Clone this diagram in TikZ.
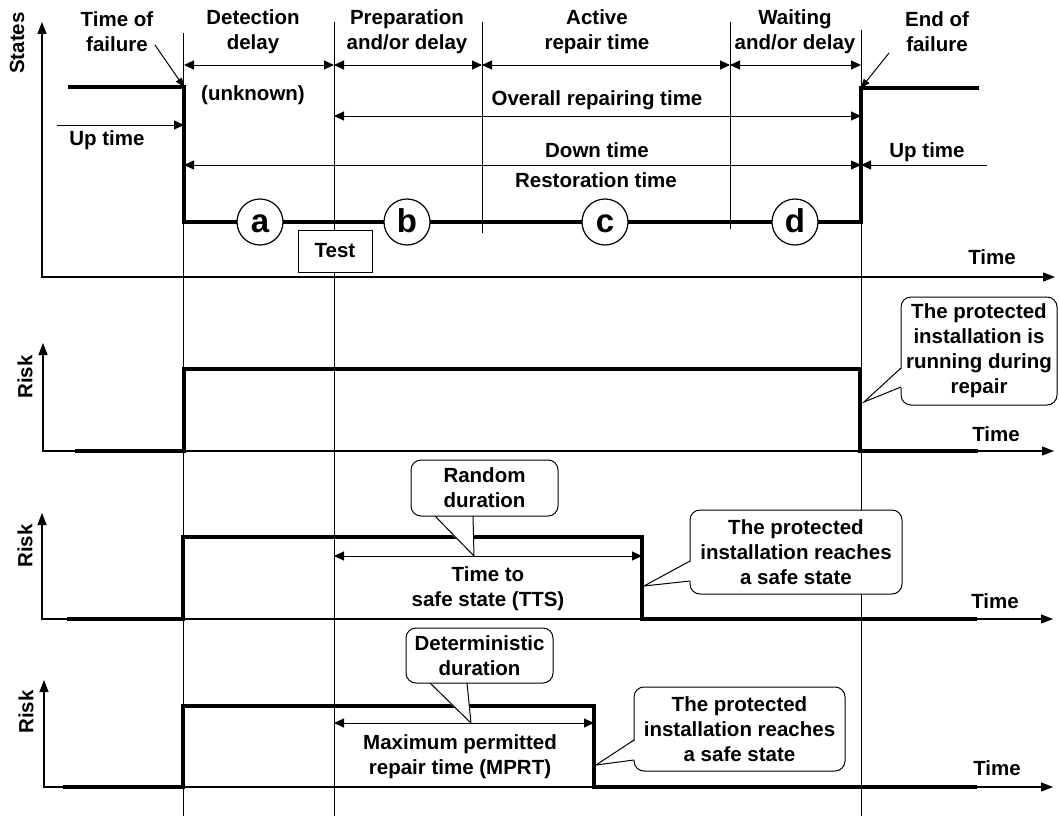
\documentclass[tikz,border=0pt]{standalone}
\usepackage{fontspec}
\setmainfont{Liberation Sans}
\usetikzlibrary{arrows.meta}

\newcommand\lblfont{\fontsize{20.5}{25}\selectfont\bfseries}
\newcommand\letfont{\fontsize{33}{33}\selectfont\bfseries}

\tikzset{
  guide/.style={line width=0.8pt},
  sig/.style={line width=4pt, line join=miter},
  axis/.style={line width=1.2pt, {Triangle[length=12pt,width=9pt]}-{Triangle[length=12pt,width=9pt]}},
  dim/.style={line width=1pt, {Triangle[length=10pt,width=9pt]}-{Triangle[length=10pt,width=9pt]}},
  onehead/.style={line width=1pt, -{Triangle[length=10pt,width=9pt]}},
  pointer/.style={line width=1pt, -{Triangle[length=9pt,width=7pt]}},
  lbl/.style={font=\lblfont, align=center, inner sep=0pt},
  phase/.style={circle, draw, line width=1.2pt, fill=white, minimum size=46pt, inner sep=0pt,
    text height=20pt, text depth=0pt, font=\letfont},
  callout/.style={draw, fill=white, rounded corners=10pt, line width=1pt, align=center, inner sep=0pt, font=\lblfont},
  testbox/.style={draw, fill=white, line width=1pt, minimum width=74pt, minimum height=42pt, inner sep=0pt, font=\lblfont},
  tail/.style={line width=1pt}
}

\begin{document}
\begin{tikzpicture}[x=1pt, y=-1pt]
\useasboundingbox (0,0) rectangle (1059,816);

% ---------- vertical guide lines ----------
\coordinate (g1t) at (183.5,33);  \coordinate (g1b) at (183.5,816);
\coordinate (g2t) at (334,22);    \coordinate (g2b) at (334,816);
\coordinate (g3t) at (482,22);    \coordinate (g3b) at (482,233);
\coordinate (g4t) at (730,22);    \coordinate (g4b) at (730,229);
\coordinate (g5t) at (861,30);    \coordinate (g5b) at (861,816);
\foreach \a in {1,...,5} \draw[guide] (g\a t) -- (g\a b);

% ---------- axes ----------
\coordinate (s0) at (42,22);   \coordinate (s1) at (42,277);  \coordinate (s2) at (1055,277);
\coordinate (r0) at (43,343);  \coordinate (r1) at (43,451);  \coordinate (r2) at (1054,451);
\coordinate (q0) at (42,513);  \coordinate (q1) at (42,619);  \coordinate (q2) at (1053,619);
\coordinate (p0) at (44,680);  \coordinate (p1) at (44,787);  \coordinate (p2) at (1053,787);
\draw[axis] (s0) -- (s1) -- (s2);
\draw[axis] (r0) -- (r1) -- (r2);
\draw[axis] (q0) -- (q1) -- (q2);
\draw[axis] (p0) -- (p1) -- (p2);

\node[lbl, rotate=90] (states) at (17,43) {States};
\node[lbl, rotate=90] (risk1) at (25,377) {Risk};
\node[lbl, rotate=90] (risk2) at (25,546) {Risk};
\node[lbl, rotate=90] (risk3) at (26,712) {Risk};
\node[lbl] (time0) at (992,257) {Time};
\node[lbl] (time1) at (996,434) {Time};
\node[lbl] (time2) at (995,601) {Time};
\node[lbl] (time3) at (997,768) {Time};

% ---------- state signal ----------
\coordinate (fail) at (184,87);
\coordinate (rest) at (861,88);
\draw[sig] (68,87) -- (fail) -- (184,222) -- (861,222) -- (rest) -- (979,88);

% ---------- phase headings ----------
\node[lbl] (tof)  at (117,32) {Time of\\failure};
\node[lbl] (det)  at (253,32) {Detection\\delay};
\node[lbl] (prep) at (407,32) {Preparation\\and/or delay};
\node[lbl] (act)  at (597,32) {Active\\repair time};
\node[lbl] (wait) at (795,32) {Waiting\\and/or delay};
\node[lbl] (eof)  at (937,32) {End of\\failure};

\coordinate (tofs) at (155,45);
\coordinate (eofs) at (889,53);
\draw[pointer] (tofs) -- (fail);
\draw[pointer] (eofs) -- (rest);

% phase durations
\coordinate (d1) at (184,65);  \coordinate (d2) at (334,65);
\coordinate (d3) at (482,65);  \coordinate (d4) at (730,65);
\coordinate (d5) at (861,65);
\draw[dim] (d1) -- (d2);
\draw[dim] (d2) -- (d3);
\draw[dim] (d3) -- (d4);
\draw[dim] (d4) -- (d5);
\node[lbl] (unk) at (253,95) {(unknown)};

% overall repairing time
\coordinate (o1) at (334,116); \coordinate (o2) at (861,116);
\draw[dim] (o1) -- (o2);
\node[lbl] (ovr) at (597,100) {Overall repairing time};

% up time (left)
\coordinate (u1) at (57,125); \coordinate (u2) at (184,125);
\draw[onehead] (u1) -- (u2);
\node[lbl] (up1) at (107,140) {Up time};

% down time
\coordinate (w1) at (184,165); \coordinate (w2) at (861,165);
\draw[dim] (w1) -- (w2);
\node[lbl] (down) at (597,150) {Down time};
\node[lbl] (restt) at (596,180) {Restoration time};

% up time (right)
\coordinate (v1) at (987,165); \coordinate (v2) at (861,165);
\draw[onehead] (v1) -- (v2);
\node[lbl] (up2) at (927,152) {Up time};

% phase markers and test
\node[phase] (pa) at (260,222) {a};
\node[phase] (pb) at (407,222) {b};
\node[phase] (pc) at (605,222) {c};
\node[phase] (pd) at (795,222) {d};
\node[testbox] (test) at (335,251) {Test};

% ---------- risk panel 1: running during repair ----------
\draw[sig] (75,451) -- (184,451) -- (184,369) -- (860,369) -- (860,451) -- (978,451);
\node[callout, minimum width=156pt, minimum height=108pt] (cb1) at (979,351)
  {The protected\\installation is\\running during\\repair};
\coordinate (t1a) at (901,368); \coordinate (t1b) at (901,387); \coordinate (t1c) at (864,402);
\fill[white] ([xshift=2pt]t1a) -- (t1c) -- ([xshift=2pt]t1b) -- cycle;
\draw[tail] (t1a) -- (t1c) -- (t1b);

% ---------- risk panel 2: time to safe state ----------
\coordinate (tts1) at (334,556); \coordinate (tts2) at (642,556);
\draw[sig] (67,619) -- (182.5,619) -- (182.5,537) -- (642,537) -- (642,619) -- (977,619);
\draw[dim] (tts1) -- (tts2);
\node[lbl] (tts) at (488,589) {Time to\\safe state (TTS)};

\node[callout, minimum width=147pt, minimum height=56pt] (rnd) at (484.5,488) {Random\\duration};
\coordinate (t2a) at (435,516); \coordinate (t2b) at (473,516); \coordinate (t2c) at (474,556);
\fill[white] ([yshift=-2pt]t2a) -- (t2c) -- ([yshift=-2pt]t2b) -- cycle;
\draw[tail] (t2a) -- (t2c) -- (t2b);

\node[callout, minimum width=212pt, minimum height=84pt] (cb2) at (796,552)
  {The protected\\installation reaches\\a safe state};
\coordinate (t3a) at (690,561); \coordinate (t3b) at (690,581); \coordinate (t3c) at (644,586);
\fill[white] ([xshift=2pt]t3a) -- (t3c) -- ([xshift=2pt]t3b) -- cycle;
\draw[tail] (t3a) -- (t3c) -- (t3b);

% ---------- risk panel 3: maximum permitted repair time ----------
\coordinate (mp1) at (334,723); \coordinate (mp2) at (594,723);
\draw[sig] (63,787) -- (182.5,787) -- (182.5,706) -- (594,706) -- (594,787) -- (977,787);
\draw[dim] (mp1) -- (mp2);
\node[lbl] (mprt) at (460,757) {Maximum permitted\\repair time (MPRT)};

\node[callout, minimum width=147pt, minimum height=55pt] (det2) at (479.5,655.5) {Deterministic\\duration};
\coordinate (t4a) at (430,683); \coordinate (t4b) at (467,683); \coordinate (t4c) at (471,723);
\fill[white] ([yshift=-2pt]t4a) -- (t4c) -- ([yshift=-2pt]t4b) -- cycle;
\draw[tail] (t4a) -- (t4c) -- (t4b);

\node[callout, minimum width=211pt, minimum height=84pt] (cb3) at (739.5,729)
  {The protected\\installation reaches\\a safe state};
\coordinate (t5a) at (634,740); \coordinate (t5b) at (634,760); \coordinate (t5c) at (596,765);
\fill[white] ([xshift=2pt]t5a) -- (t5c) -- ([xshift=2pt]t5b) -- cycle;
\draw[tail] (t5a) -- (t5c) -- (t5b);
\end{tikzpicture}
\end{document}
